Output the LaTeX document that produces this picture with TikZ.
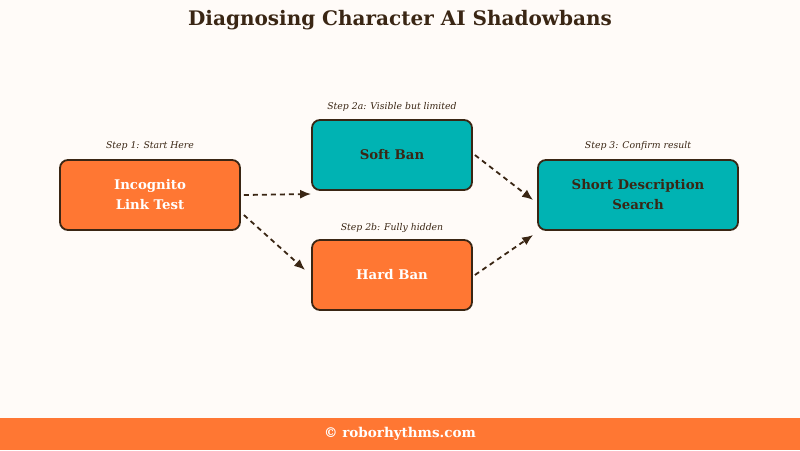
\documentclass[tikz,border=0pt]{standalone}
\usepackage{fontspec}
\setmainfont{DejaVu Serif}
\usetikzlibrary{arrows.meta,calc}
\definecolor{bg}{HTML}{FFFBF8}
\definecolor{orng}{HTML}{FF7733}
\definecolor{teal2}{HTML}{00B3B3}
\definecolor{edge}{HTML}{3A2614}
\begin{document}
\begin{tikzpicture}[x=1pt,y=-1pt,
  box/.style={draw=edge,line width=1.8pt,rounded corners=8pt,font=\bfseries\fontsize{13.3}{20}\selectfont,align=center,inner sep=0pt},
  obox/.style={box,fill=orng,text=white},
  tbox/.style={box,fill=teal2,text=edge},
  lbl/.style={font=\itshape\fontsize{9.3}{11}\selectfont,text=edge},
  conn/.style={draw=edge,line width=1.8pt,dash pattern=on 5pt off 4pt,-{Latex[length=11pt,width=9pt]}}]
\useasboundingbox (0,0) rectangle (800,450);
\fill[bg] (0,0) rectangle (800,450);
\fill[orng] (0,418) rectangle (800,450);
\node (title) at (400,20) {\bfseries\fontsize{20}{24}\selectfont\color{edge}Diagnosing Character AI Shadowbans};
\node[text=white] (foot) at (400,434) {\bfseries\fontsize{13.5}{15}\selectfont © roborhythms.com};
\node[obox,minimum width=180pt,minimum height=70pt] (inc) at (150,195) {Incognito\\Link Test};
\node[tbox,minimum width=160pt,minimum height=70pt] (soft) at (392,155) {Soft Ban};
\node[obox,minimum width=160pt,minimum height=70pt] (hard) at (392,275) {Hard Ban};
\node[tbox,minimum width=200pt,minimum height=70pt] (short) at (638,195) {Short Description\\Search};
\node[lbl] (l1) at (150,146) {Step 1: Start Here};
\node[lbl] (l2) at (392,107) {Step 2a: Visible but limited};
\node[lbl] (l3) at (392,228) {Step 2b: Fully hidden};
\node[lbl] (l4) at (638,146) {Step 3: Confirm result};
\draw[conn] ($(inc.east)+(3,0)$) -- ($(soft.west)+(0,39)$);
\draw[conn] ($(inc.east)+(3,20)$) -- ($(hard.west)+(-6,-5)$);
\draw[conn] ($(soft.east)+(2,0)$) -- ($(short.west)+(-4,5)$);
\draw[conn] ($(hard.east)+(2,0)$) -- ($(short.west)+(-4,40)$);
\end{tikzpicture}
\end{document}
